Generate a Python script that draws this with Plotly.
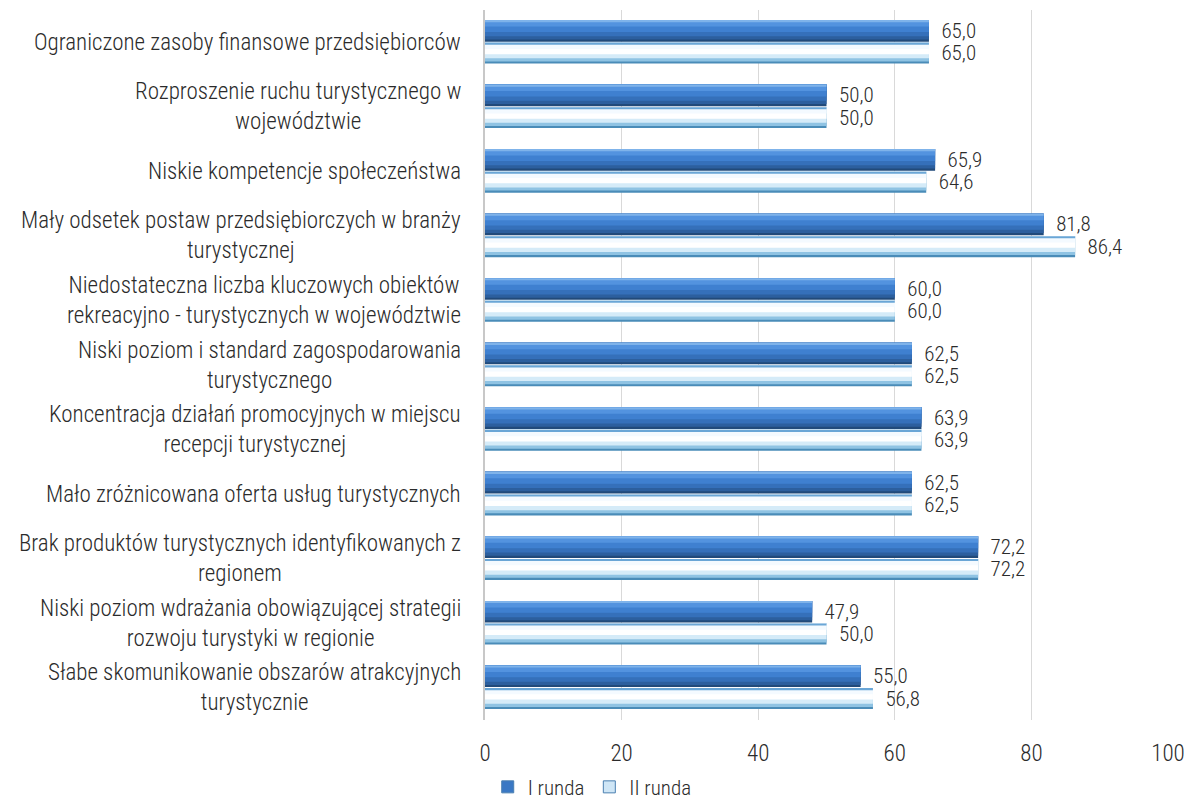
import plotly.graph_objects as go

categories = [
    "Ograniczone zasoby finansowe przedsiębiorców",
    "Rozproszenie ruchu turystycznego w<br>województwie",
    "Niskie kompetencje społeczeństwa",
    "Mały odsetek postaw przedsiębiorczych w branży<br>turystycznej",
    "Niedostateczna liczba kluczowych obiektów<br>rekreacyjno - turystycznych w województwie",
    "Niski poziom i standard zagospodarowania<br>turystycznego",
    "Koncentracja działań promocyjnych w miejscu<br>recepcji turystycznej",
    "Mało zróżnicowana oferta usług turystycznych",
    "Brak produktów turystycznych identyfikowanych z<br>regionem",
    "Niski poziom wdrażania obowiązującej strategii<br>rozwoju turystyki w regionie",
    "Słabe skomunikowanie obszarów atrakcyjnych<br>turystycznie",
]
runda_1 = [65.0, 50.0, 65.9, 81.8, 60.0, 62.5, 63.9, 62.5, 72.2, 47.9, 55.0]
runda_2 = [65.0, 50.0, 64.6, 86.4, 60.0, 62.5, 63.9, 62.5, 72.2, 50.0, 56.8]
series_names = ["I runda", "II runda"]
x_ticks = [0, 20, 40, 60, 80, 100]

FONT = "Roboto Condensed, Liberation Sans Narrow, DejaVu Sans Condensed, Roboto, sans-serif"
TXT = "#2b2b2b"

# gradient layers: (top fraction covered, colour); drawn largest first
grad_1 = [(1.00, "#214a7a"), (0.90, "#2c5f9e"), (0.75, "#3570ba"),
          (0.55, "#3f80d0"), (0.30, "#5393df"), (0.10, "#7fb3ea")]
grad_2 = [(1.00, "#4a8cb8"), (0.90, "#8fc3e3"), (0.75, "#d5ebf8"),
          (0.55, "#ffffff"), (0.30, "#f4faff"), (0.10, "#6aa6d6")]

fig = go.Figure()

def add_series(values, name, grad, offset, width, legend_color):
    for frac, col in grad:
        fig.add_trace(go.Bar(
            y=categories, x=values, orientation="h",
            offset=offset, width=width * frac,
            marker=dict(color=col, line=dict(width=0)),
            showlegend=False, hoverinfo="skip",
        ))
    fig.add_trace(go.Bar(
        y=categories, x=values, orientation="h", name=name,
        offset=offset, width=width,
        marker=dict(color="rgba(0,0,0,0)", line=dict(width=0)),
        texttemplate="  %{x:.1f}", textposition="outside", constraintext="none",
        textfont=dict(family=FONT, size=21, color=TXT, weight=300),
        cliponaxis=False, showlegend=False,
    ))
    fig.add_trace(go.Bar(
        y=[None], x=[None], orientation="h", name=name,
        marker=dict(color=legend_color, line=dict(color="#4a7fb0", width=1)),
        showlegend=True,
    ))

add_series(runda_1, series_names[0], grad_1, -0.345, 0.335, "#3a78c4")
add_series(runda_2, series_names[1], grad_2, 0.005, 0.325, "#cfe6f6")

for cat in categories:
    fig.add_annotation(
        x=0, xref="paper", y=cat, yref="y", text=cat,
        xanchor="right", yanchor="middle", align="center", xshift=-22,
        showarrow=False, font=dict(family=FONT, size=23, color=TXT, weight=300),
    )

fig.update_layout(
    width=1190, height=800,
    barmode="overlay",
    separators=", ",
    paper_bgcolor="white", plot_bgcolor="white",
    margin=dict(l=485, r=22, t=10, b=80, autoexpand=False),
    font=dict(family=FONT, size=22, color=TXT, weight=300),
    legend=dict(orientation="h", x=0.157, xanchor="center",
                yref="container", y=0.016, yanchor="middle",
                bgcolor="rgba(0,0,0,0)",
                font=dict(family=FONT, size=21, color=TXT, weight=300), traceorder="normal",
                itemwidth=30),
    xaxis=dict(range=[0, 100], tickvals=x_ticks, showgrid=True, gridcolor="#d9d9d9",
               gridwidth=1, zeroline=False, showline=False, automargin=False,
               ticklabeloverflow="allow",
               ticks="outside", ticklen=12, tickcolor="rgba(0,0,0,0)",
               tickfont=dict(family=FONT, size=23, color=TXT, weight=300)),
    yaxis=dict(autorange="reversed", showticklabels=False, showgrid=False, automargin=False,
               showline=True, linecolor="#c8c8c8", linewidth=2, ticks=""),
)

fig.write_html(
    "out.html",
    config={"displayModeBar": False},
    post_script="document.body.style.margin='0';document.body.style.overflow='hidden';",
)
